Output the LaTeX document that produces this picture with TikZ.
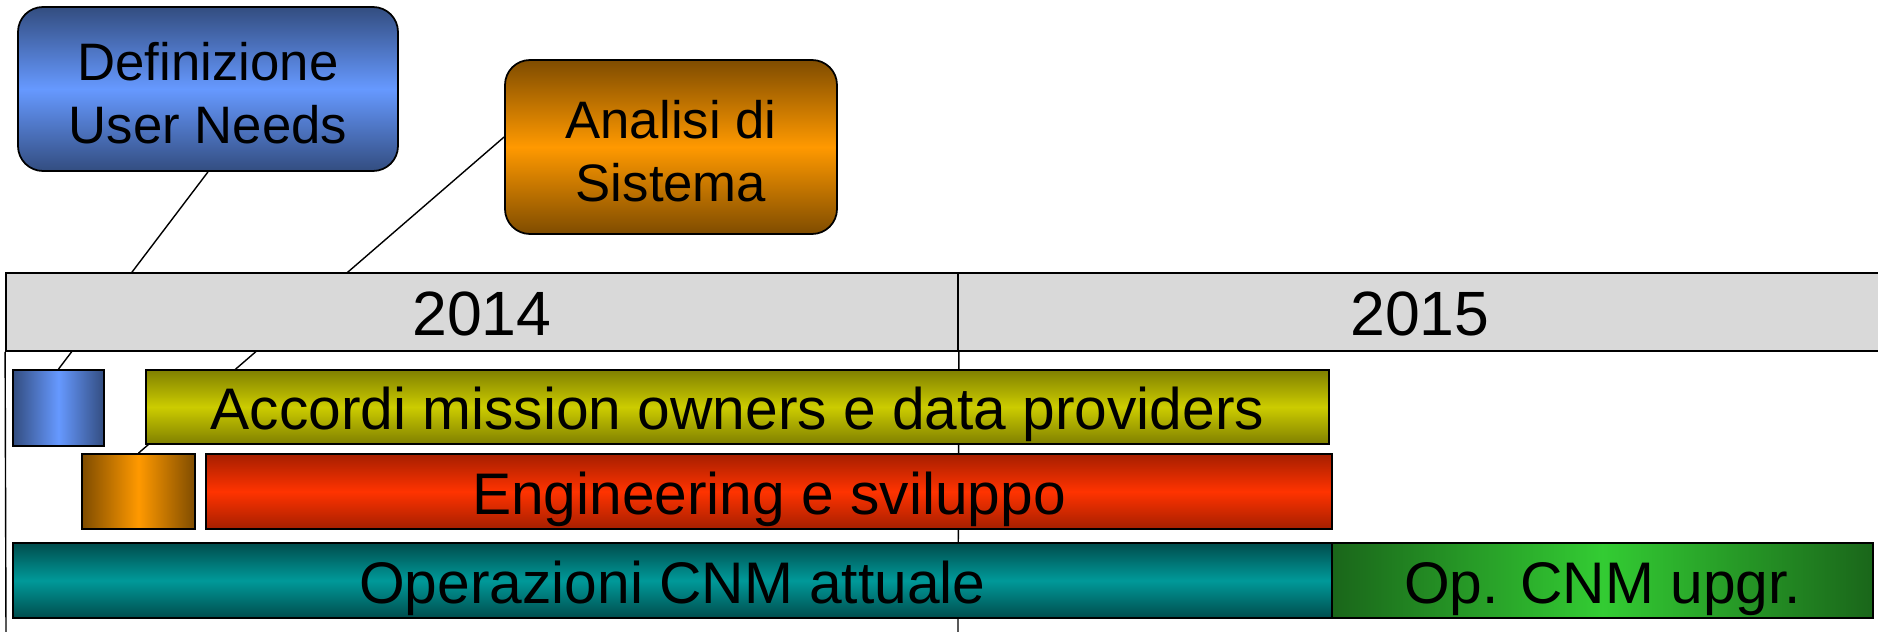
\documentclass[tikz,border=0pt]{standalone}
\usepackage{fontspec}
\setmainfont{Liberation Sans}
\usepackage{tikz}
\usetikzlibrary{backgrounds}

\definecolor{bluedark}{HTML}{334D80}
\definecolor{bluelight}{HTML}{6699FF}
\definecolor{orangedark}{HTML}{7F4C00}
\definecolor{orangelight}{HTML}{FF9900}
\definecolor{olivedark}{HTML}{808000}
\definecolor{olivelight}{HTML}{CCCC00}
\definecolor{reddark}{HTML}{A61F00}
\definecolor{redlight}{HTML}{FF3300}
\definecolor{tealdark}{HTML}{004D4D}
\definecolor{teallight}{HTML}{009999}
\definecolor{greendark}{HTML}{1A661A}
\definecolor{greenlight}{HTML}{33CC33}
\definecolor{yeargrey}{HTML}{D9D9D9}

\begin{document}
\begin{tikzpicture}[line width=0.5pt,
		phase/.style={draw, rounded corners=0.25cm, align=center, inner sep=0pt, text height=1.10cm, text depth=0cm, font=\fontsize{15}{18}\selectfont},
		year/.style={draw, fill=yeargrey, inner sep=0pt, minimum height=0.78cm, text height=0.474cm, text depth=0cm, font=\fontsize{17.8}{20}\selectfont},
		bar/.style={draw, inner sep=0pt, text height=0.456cm, text depth=0cm, font=\fontsize{16.7}{20}\selectfont},
		vgrad/.style 2 args={top color=#1, bottom color=#1, middle color=#2},
		hgrad/.style 2 args={left color=#1, right color=#1, middle color=#2}]
				\useasboundingbox (0, 0) rectangle (18.78, 6.32);

				\node[phase, vgrad={bluedark}{bluelight}, minimum width=3.80cm, minimum height=1.64cm](un) at (2.08, 5.43){Definizione\\User Needs};
				\node[phase, vgrad={orangedark}{orangelight}, minimum width=3.32cm, minimum height=1.74cm](as) at (6.71, 4.85){Analisi di\\Sistema};

				\node[year, minimum width=9.52cm](y14) at (4.82, 3.20){2014};
				\node[year, minimum width=9.24cm](y15) at (14.20, 3.20){2015};

				\node[bar, hgrad={bluedark}{bluelight}, minimum width=0.91cm, minimum height=0.76cm](bun) at (0.585, 2.24){};
				\node[bar, vgrad={olivedark}{olivelight}, minimum width=11.83cm, minimum height=0.74cm](acc) at (7.375, 2.25){Accordi mission owners e data providers};
				\node[bar, hgrad={orangedark}{orangelight}, minimum width=1.13cm, minimum height=0.75cm](bas) at (1.385, 1.405){};
				\node[bar, vgrad={reddark}{redlight}, minimum width=11.26cm, minimum height=0.75cm](eng) at (7.69, 1.405){Engineering e sviluppo};
				\node[bar, vgrad={tealdark}{teallight}, minimum width=13.19cm, minimum height=0.75cm](ops) at (6.725, 0.515){Operazioni CNM attuale};
				\node[bar, hgrad={greendark}{greenlight}, minimum width=5.41cm, minimum height=0.75cm](upg) at (16.025, 0.515){Op. CNM upgr.};

				\coordinate[](e14) at (0.06, 0);
				\coordinate[](e15) at (9.58, 0);

				\begin{pgfonlayer}{background}
					\draw (un.south)--(bun.north);
					\draw ([yshift=1mm]as.west)--(bas.north);
					\draw (y14.south west)--(e14);
					\draw (y14.south east)--(e15);
				\end{pgfonlayer}
			\end{tikzpicture}
\end{document}
